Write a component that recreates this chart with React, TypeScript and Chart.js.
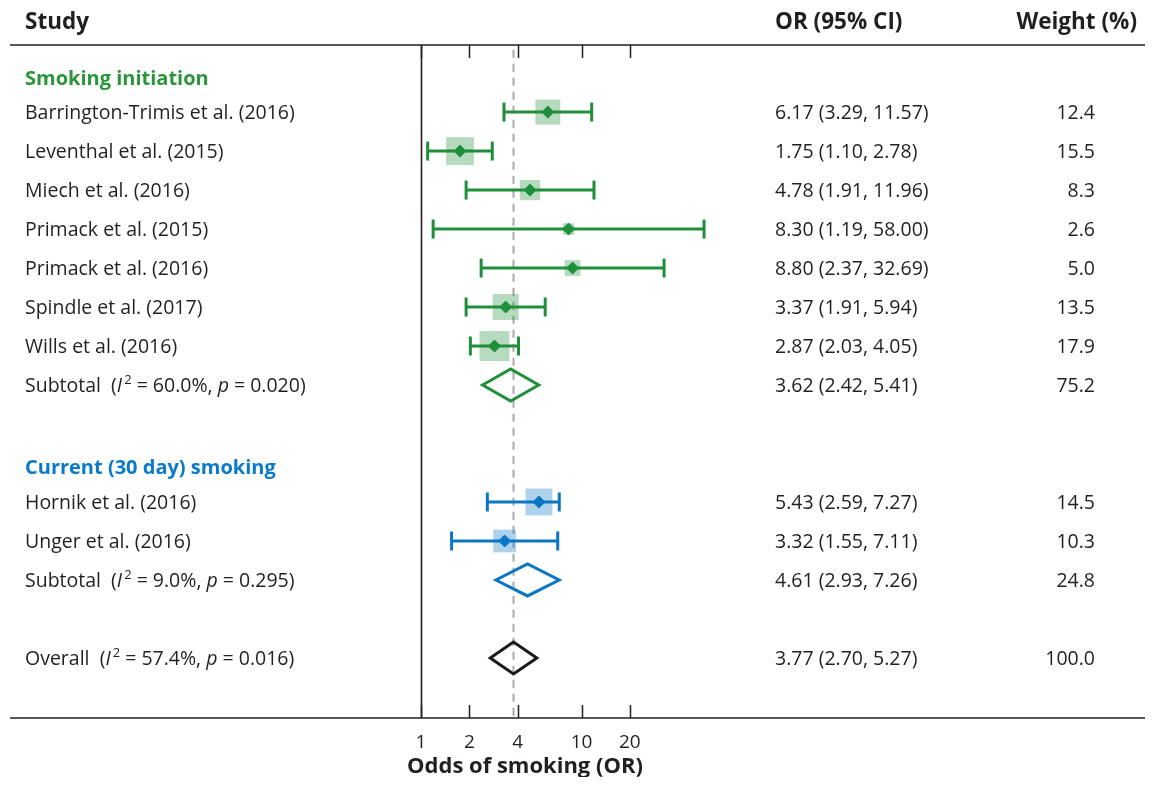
import React, { useEffect, useRef } from "react";
import { Chart, registerables } from "chart.js";

Chart.register(...registerables);

// ---------- data ----------
const studyNames = [
  "Barrington-Trimis et al. (2016)",
  "Leventhal et al. (2015)",
  "Miech et al. (2016)",
  "Primack et al. (2015)",
  "Primack et al. (2016)",
  "Spindle et al. (2017)",
  "Wills et al. (2016)",
  "Hornik et al. (2016)",
  "Unger et al. (2016)",
];
const studyOR = [6.17, 1.75, 4.78, 8.3, 8.8, 3.37, 2.87, 5.43, 3.32];
const studyLo = [3.29, 1.1, 1.91, 1.19, 2.37, 1.91, 2.03, 2.59, 1.55];
const studyHi = [11.57, 2.78, 11.96, 58.0, 32.69, 5.94, 4.05, 7.27, 7.11];
const studyWeight = [12.4, 15.5, 8.3, 2.6, 5.0, 13.5, 17.9, 14.5, 10.3];
const studyRow = [1, 2, 3, 4, 5, 6, 7, 11, 12];
const studyGroup = [0, 0, 0, 0, 0, 0, 0, 1, 1];

const groupNames = ["Smoking initiation", "Current (30 day) smoking"];
const groupRow = [0, 10];

const summaryLabels = ["Subtotal", "Subtotal", "Overall"];
const summaryOR = [3.62, 4.61, 3.77];
const summaryLo = [2.42, 2.93, 2.7];
const summaryHi = [5.41, 7.26, 5.27];
const summaryWeight = [75.2, 24.8, 100.0];
const summaryI2 = [60.0, 9.0, 57.4];
const summaryP = [0.02, 0.295, 0.016];
const summaryRow = [8, 13, 15];
const summaryColorIdx = [0, 1, 2];

const xTicks = [1, 2, 4, 10, 20];
const referenceOR = 3.77;

const headerStudy = "Study";
const headerOR = "OR (95% CI)";
const headerWeight = "Weight (%)";
const xTitle = "Odds of smoking (OR)";

// ---------- styles ----------
const darkColors = ["#1f8f3a", "#0b76c6", "#1a1a1a"];
const lightColors = ["rgba(31,143,58,0.33)", "rgba(11,118,198,0.33)", "rgba(0,0,0,0.3)"];
const headingColors = ["#2a963c", "#0a7acb"];
const TEXT = "#231f20";
const FONT = "'Open Sans', 'Noto Sans', sans-serif";
const BODY = 19.5;

const W = 1137;
const H = 769;
const Y_MIN = -0.72;
const Y_MAX = 16.54;

function drawRich(ctx: CanvasRenderingContext2D, x: number, y: number, segs: { t: string; s?: string }[], size: number) {
  let cx = x;
  for (const seg of segs) {
    let font = `${size}px ${FONT}`;
    let dy = 0;
    if (seg.s === "i") font = `italic ${size}px ${FONT}`;
    if (seg.s === "sup") {
      font = `${Math.round(size * 0.68)}px ${FONT}`;
      dy = -6;
      cx += 2;
    }
    ctx.font = font;
    ctx.fillText(seg.t, cx, y + dy);
    cx += ctx.measureText(seg.t).width;
  }
}

const forestPlugin = {
  id: "forestDecor",
  beforeDatasetsDraw(chart: any) {
    const { ctx, chartArea, scales } = chart;
    const xs = scales.x;
    ctx.save();
    ctx.strokeStyle = "#231f20";
    ctx.lineWidth = 1.6;
    // top & bottom rules
    ctx.beginPath();
    ctx.moveTo(2, chartArea.top);
    ctx.lineTo(W, chartArea.top);
    ctx.moveTo(2, chartArea.bottom);
    ctx.lineTo(W, chartArea.bottom);
    ctx.stroke();
    // vertical line at OR = 1
    const x1 = Math.round(xs.getPixelForValue(1)) + 0.5;
    ctx.beginPath();
    ctx.moveTo(x1, chartArea.top);
    ctx.lineTo(x1, chartArea.bottom);
    ctx.stroke();
    // tick marks (inside, top & bottom)
    ctx.lineWidth = 1.5;
    ctx.beginPath();
    for (const v of xTicks) {
      const px = Math.round(xs.getPixelForValue(v)) + 0.5;
      ctx.moveTo(px, chartArea.top);
      ctx.lineTo(px, chartArea.top + 13);
      ctx.moveTo(px, chartArea.bottom);
      ctx.lineTo(px, chartArea.bottom - 13);
    }
    ctx.stroke();
    ctx.restore();
  },
  afterDraw(chart: any) {
    const { ctx, scales, chartArea } = chart;
    const ys = scales.y;
    ctx.save();
    ctx.textBaseline = "middle";
    ctx.fillStyle = TEXT;
    // headers
    ctx.font = `bold 22.5px ${FONT}`;
    ctx.textAlign = "left";
    ctx.fillText(headerStudy, 17, 15);
    ctx.fillText(headerOR, 767, 15);
    ctx.textAlign = "right";
    ctx.fillText(headerWeight, 1129, 15);

    // group headings
    ctx.textAlign = "left";
    groupNames.forEach((g, i) => {
      ctx.font = `bold 20px ${FONT}`;
      ctx.fillStyle = headingColors[i];
      ctx.fillText(g, 17, ys.getPixelForValue(groupRow[i]) + (i === 0 ? 6 : 5));
    });

    // studies
    ctx.fillStyle = TEXT;
    ctx.font = `${BODY}px ${FONT}`;
    studyNames.forEach((n, i) => {
      const y = ys.getPixelForValue(studyRow[i]) + 1;
      ctx.textAlign = "left";
      ctx.fillText(n, 17, y);
      ctx.fillText(`${studyOR[i].toFixed(2)} (${studyLo[i].toFixed(2)}, ${studyHi[i].toFixed(2)})`, 767, y);
      ctx.textAlign = "right";
      ctx.fillText(studyWeight[i].toFixed(1), 1087, y);
    });

    // summaries
    summaryLabels.forEach((lab, i) => {
      const y = ys.getPixelForValue(summaryRow[i]) + 1;
      ctx.textAlign = "left";
      drawRich(
        ctx,
        17,
        y,
        [
          { t: `${lab}  (` },
          { t: "I", s: "i" },
          { t: "2", s: "sup" },
          { t: ` = ${summaryI2[i].toFixed(1)}%, ` },
          { t: "p", s: "i" },
          { t: ` = ${summaryP[i].toFixed(3)})` },
        ],
        BODY
      );
      ctx.font = `${BODY}px ${FONT}`;
      ctx.fillText(`${summaryOR[i].toFixed(2)} (${summaryLo[i].toFixed(2)}, ${summaryHi[i].toFixed(2)})`, 767, y);
      ctx.textAlign = "right";
      ctx.fillText(summaryWeight[i].toFixed(1), 1087, y);
    });

    // x-axis title
    ctx.textAlign = "center";
    ctx.font = `bold 22px ${FONT}`;
    ctx.fillText(xTitle, 517, chartArea.bottom + 49);
    ctx.restore();
  },
};

export default function App() {
  const ref = useRef<HTMLCanvasElement | null>(null);

  useEffect(() => {
    if (!ref.current) return;
    const datasets: any[] = [];

    // markers (top)
    datasets.push({
      type: "scatter",
      order: 0,
      data: studyOR.map((v, i) => ({ x: v, y: studyRow[i] })),
      pointStyle: "rectRot",
      pointRadius: 6,
      pointBackgroundColor: studyGroup.map((g) => darkColors[g]),
      pointBorderColor: studyGroup.map((g) => darkColors[g]),
      pointBorderWidth: 1,
    });

    // CI lines
    studyOR.forEach((_, i) => {
      const c = darkColors[studyGroup[i]];
      datasets.push({
        type: "scatter",
        order: 1,
        showLine: true,
        data: [
          { x: studyLo[i], y: studyRow[i] },
          { x: studyHi[i], y: studyRow[i] },
        ],
        borderColor: c,
        borderWidth: 3,
        pointStyle: "line",
        pointRotation: 90,
        pointRadius: 9.5,
        pointBorderWidth: 3,
        pointBorderColor: c,
        pointBackgroundColor: c,
      });
    });

    // weight squares
    datasets.push({
      type: "scatter",
      order: 2,
      data: studyOR.map((v, i) => ({ x: v, y: studyRow[i] })),
      pointStyle: "rect",
      pointRadius: studyWeight.map((w) => 5.0 * Math.sqrt(w)),
      pointBackgroundColor: studyGroup.map((g) => lightColors[g]),
      pointBorderColor: "rgba(0,0,0,0)",
      pointBorderWidth: 0,
    });

    // summary diamonds
    summaryOR.forEach((v, i) => {
      const r = summaryRow[i];
      const h = 0.41;
      datasets.push({
        type: "scatter",
        order: 1,
        showLine: true,
        data: [
          { x: summaryLo[i], y: r },
          { x: v, y: r - h },
          { x: summaryHi[i], y: r },
          { x: v, y: r + h },
          { x: summaryLo[i], y: r },
          { x: v, y: r - h },
        ],
        borderColor: darkColors[summaryColorIdx[i]],
        borderWidth: 3,
        borderJoinStyle: "miter",
        pointRadius: 0,
        fill: false,
      });
    });

    // reference dashed line at overall OR
    datasets.push({
      type: "scatter",
      order: 5,
      showLine: true,
      data: [
        { x: referenceOR, y: Y_MIN + 0.12 },
        { x: referenceOR, y: Y_MAX },
      ],
      borderColor: "#a9a9a9",
      borderWidth: 2,
      borderDash: [8, 6],
      pointRadius: 0,
    });

    const chart = new Chart(ref.current, {
      type: "scatter",
      data: { datasets },
      options: {
        animation: false,
        responsive: false,
        events: [],
        layout: { padding: { left: 413, right: 403, top: 37, bottom: 14 } },
        plugins: { legend: { display: false }, tooltip: { enabled: false } },
        scales: {
          x: {
            type: "logarithmic",
            min: 1,
            max: 100,
            grid: { display: false },
            border: { display: false },
            afterBuildTicks: (s: any) => {
              s.ticks = xTicks.map((v) => ({ value: v }));
            },
            afterFit: (s: any) => {
              s.height = 45;
            },
            ticks: {
              autoSkip: false,
              maxRotation: 0,
              padding: 5,
              color: TEXT,
              font: { family: FONT, size: 19 },
              callback: (v: any) => String(v),
            },
          },
          y: {
            type: "linear",
            display: false,
            reverse: true,
            min: Y_MIN,
            max: Y_MAX,
          },
        },
      },
      plugins: [forestPlugin],
    } as any);
    return () => chart.destroy();
  }, []);

  return <canvas ref={ref} width={W} height={H} style={{ display: "block" }} />;
}
